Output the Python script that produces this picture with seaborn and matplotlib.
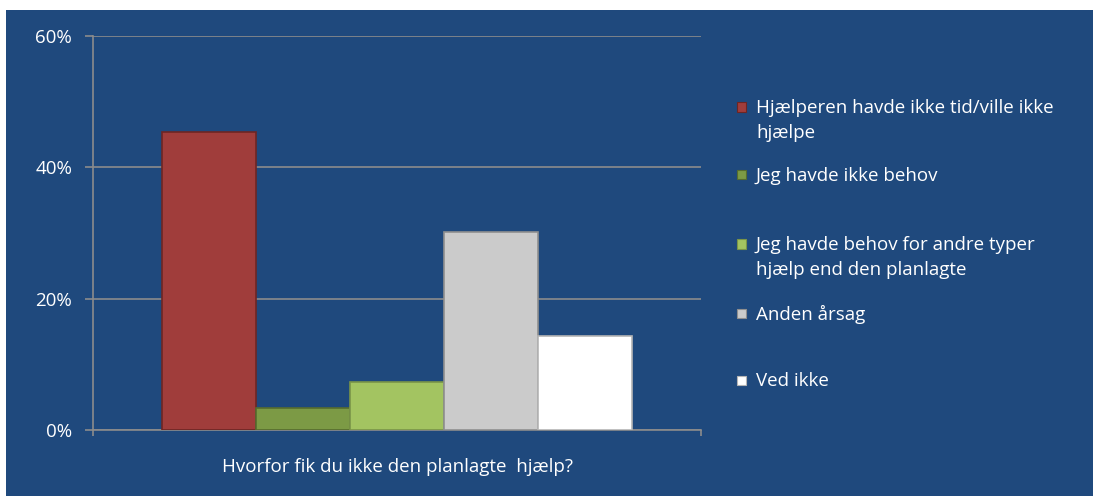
import textwrap
import pandas as pd
import matplotlib
matplotlib.use("Agg")
import matplotlib.pyplot as plt
from matplotlib.patches import Rectangle
from matplotlib.ticker import FuncFormatter
import seaborn as sns

# data
question = "Hvorfor fik du ikke den planlagte  hjælp?"
reasons = [
    "Hjælperen havde ikke tid/ville ikke hjælpe",
    "Jeg havde ikke behov",
    "Jeg havde behov for andre typer hjælp end den planlagte",
    "Anden årsag",
    "Ved ikke",
]
pct = [45.4, 3.3, 7.3, 30.1, 14.3]
colors = ["#A03D3B", "#7C9A45", "#A3C461", "#CBCBCB", "#FFFFFF"]
edges = ["#6E2523", "#566C2E", "#7A9448", "#8F8F8F", "#B5B5B5"]
yticks = [0, 20, 40, 60]

bg = "#1F497D"
grid_col = "#8C8C8C"

sns.set_style("white")
plt.rcParams["font.family"] = ["Open Sans", "DejaVu Sans"]

df = pd.DataFrame({"q": [question] * len(reasons), "reason": reasons, "pct": pct})

W, H = 1093, 496
fig = plt.figure(figsize=(W / 100, H / 100), dpi=100, facecolor="white")
fig.patches.append(Rectangle((6 / W, 0), 1 - 6 / W, 1 - 10 / H, transform=fig.transFigure,
                             facecolor=bg, edgecolor="none", zorder=-10))
ax = fig.add_axes([93 / W, 1 - 430 / H, (701 - 93) / W, (430 - 36) / H])
ax.set_facecolor(bg)

sns.barplot(data=df, x="q", y="pct", hue="reason", hue_order=reasons,
            palette=colors, width=0.773, saturation=1, legend=False, ax=ax, zorder=3)
for bar, ec in zip(ax.patches, edges):
    bar.set_edgecolor(ec)
    bar.set_linewidth(1.2)

ax.set_ylim(0, 60)
ax.set_xlim(-0.5, 0.5)
ax.set_yticks(yticks)
ax.yaxis.set_major_formatter(FuncFormatter(lambda v, p: f"{v:.0f}%"))
ax.yaxis.grid(True, color=grid_col, linewidth=1.2, zorder=0)
ax.set_axisbelow(True)
ax.tick_params(axis="y", colors=grid_col, labelcolor="white", length=6, width=1.2,
               pad=9, labelsize=13.5, left=True, direction="out")
ax.set_xticks([0])
ax.set_xticklabels([question])
ax.set_xticks([-0.5, 0.5], minor=True)
ax.tick_params(axis="x", which="major", length=0, pad=20, labelcolor="white", labelsize=13.5)
ax.tick_params(axis="x", which="minor", length=4.5, width=1.2, color=grid_col,
               bottom=True, direction="out")
ax.set_xlabel("")
ax.set_ylabel("")
for s in ["top", "right"]:
    ax.spines[s].set_visible(False)
for s in ["left", "bottom"]:
    ax.spines[s].set_color(grid_col)
    ax.spines[s].set_linewidth(1.2)

# legend, drawn by hand so the swatch sits on the first text line
ys = [107, 175, 244, 313, 380]
for lab, c, ec, y in zip(reasons, colors, edges, ys):
    fig.patches.append(Rectangle((737 / W, 1 - (y + 4.5) / H), 9 / W, 9 / H,
                                 transform=fig.transFigure, facecolor=c,
                                 edgecolor=ec, linewidth=0.8))
    fig.text(756 / W, 1 - (y - 8) / H, textwrap.fill(lab, 35), color="white",
             fontsize=13.5, va="top", ha="left", linespacing=1.5)

fig.savefig("out.png", dpi=100, facecolor="white")
